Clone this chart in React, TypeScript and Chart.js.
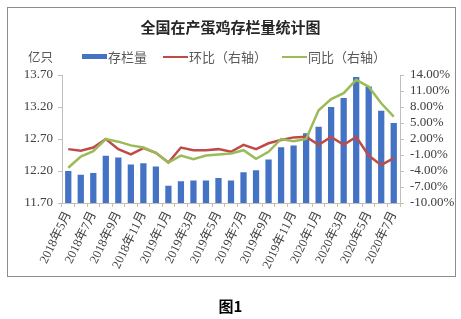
import React, { useEffect, useRef } from "react";
import { Chart, registerables } from "chart.js";

Chart.register(...registerables);

const months = [
  "2018年5月", "2018年6月", "2018年7月", "2018年8月", "2018年9月", "2018年10月", "2018年11月", "2018年12月",
  "2019年1月", "2019年2月", "2019年3月", "2019年4月", "2019年5月", "2019年6月", "2019年7月", "2019年8月",
  "2019年9月", "2019年10月", "2019年11月", "2019年12月",
  "2020年1月", "2020年2月", "2020年3月", "2020年4月", "2020年5月", "2020年6月", "2020年7月",
];

const stock = [
  12.20, 12.14, 12.17, 12.44, 12.41, 12.30, 12.32, 12.27,
  11.97, 12.04, 12.05, 12.05, 12.09, 12.05, 12.18, 12.21,
  12.38, 12.57, 12.60, 12.79,
  12.89, 13.20, 13.34, 13.67, 13.52, 13.14, 12.95,
];

const mom = [
  0.1, -0.2, 0.4, 2.0, 0.1, -0.9, 0.3, -0.6,
  -2.4, 0.4, -0.1, -0.1, 0.1, -0.4, 0.9, 0.1,
  1.2, 1.8, 2.3, 2.4,
  0.9, 2.4, 0.9, 2.4, -1.1, -2.9, -1.6,
];

const yoy = [
  -3.4, -1.3, -0.3, 2.0, 1.5, 0.8, 0.4, -0.6,
  -2.4, -1.1, -1.8, -1.1, -0.9, -0.7, -0.1, -1.7,
  -0.4, 2.0, 1.6, 2.0,
  7.4, 9.5, 10.6, 13.1, 11.8, 8.7, 6.2,
];

const seriesNames = ["存栏量", "环比（右轴）", "同比（右轴）"];
const titleText = "全国在产蛋鸡存栏量统计图";
const unitText = "亿只";
const figText = "图1";

const BLUE = "#4472C4";
const RED = "#BE4B48";
const GREEN = "#9BBB59";
const SERIF = "'Liberation Serif', 'Noto Sans CJK SC', serif";
const CJK = "'Noto Sans CJK SC', sans-serif";

export default function App() {
  const ref = useRef<HTMLCanvasElement | null>(null);

  useEffect(() => {
    if (!ref.current) return;
    const chart = new Chart(ref.current, {
      type: "bar",
      data: {
        labels: months,
        datasets: [
          {
            type: "line",
            label: seriesNames[2],
            data: yoy,
            yAxisID: "y1",
            borderColor: GREEN,
            backgroundColor: GREEN,
            borderWidth: 2.5,
            pointRadius: 0,
            tension: 0,
            order: 0,
          },
          {
            type: "line",
            label: seriesNames[1],
            data: mom,
            yAxisID: "y1",
            borderColor: RED,
            backgroundColor: RED,
            borderWidth: 2.5,
            pointRadius: 0,
            tension: 0,
            order: 1,
          },
          {
            type: "bar",
            label: seriesNames[0],
            data: stock,
            yAxisID: "y",
            backgroundColor: BLUE,
            barPercentage: 0.5,
            categoryPercentage: 1,
            order: 2,
          },
        ],
      },
      options: {
        responsive: false,
        animation: false,
        devicePixelRatio: 1,
        layout: { padding: { top: 75, left: 0, right: 0, bottom: 0 } },
        plugins: { legend: { display: false }, title: { display: false }, tooltip: { enabled: false } },
        scales: {
          x: {
            offset: true,
            border: { display: true, color: "#BFBFBF" },
            grid: { display: true, drawOnChartArea: false, drawTicks: true, tickLength: 4, color: "#E3B98A", offset: true },
            ticks: {
              autoSkip: false,
              maxRotation: 64,
              minRotation: 64,
              padding: 2,
              color: "#404040",
              font: { family: SERIF, size: 12.5 },
              callback: (_v: any, i: number) => (i % 2 === 0 ? months[i] : ""),
            },
            afterFit: (s: any) => { s.height = 116; },
          },
          y: {
            position: "left",
            min: 11.7,
            max: 13.7,
            border: { display: true, color: "#BFBFBF" },
            grid: { display: true, drawOnChartArea: false, tickLength: 4, color: "#BFBFBF" },
            ticks: {
              autoSkip: false,
              stepSize: 0.5,
              padding: 5,
              color: "#404040",
              font: { family: SERIF, size: 13 },
              callback: (v: any) => Number(v).toFixed(2),
            },
            afterFit: (s: any) => { s.width = 62; },
          },
          y1: {
            position: "right",
            min: -10,
            max: 14,
            border: { display: true, color: "#BFBFBF" },
            grid: { display: true, drawOnChartArea: false, tickLength: 4, color: "#BFBFBF" },
            ticks: {
              autoSkip: false,
              stepSize: 3,
              padding: 6,
              color: "#404040",
              font: { family: SERIF, size: 13 },
              callback: (v: any) => Number(v).toFixed(2) + "%",
            },
            afterFit: (s: any) => { s.width = 61; },
          },
        },
      },
    });
    return () => chart.destroy();
  }, []);

  const legendText: React.CSSProperties = {
    position: "absolute",
    top: 48,
    fontFamily: CJK,
    fontSize: 13,
    color: "#595959",
    lineHeight: "17px",
    whiteSpace: "nowrap",
  };

  return (
    <div style={{ position: "absolute", left: 0, top: 0, width: 461, height: 319, background: "#fff", overflow: "hidden" }}>
      <div style={{ position: "absolute", left: 7, top: 7, width: 447, height: 268, border: "1px solid #8C8C8C" }} />
      <canvas ref={ref} width={461} height={319} style={{ position: "absolute", left: 0, top: 0, display: "block" }} />
      <div style={{ position: "absolute", left: 0, width: 461, top: 17, textAlign: "center", fontFamily: CJK, fontWeight: 700, fontSize: 15, lineHeight: "20px", color: "#262626" }}>
        {titleText}
      </div>
      <div style={{ ...legendText, left: 28, fontSize: 12.5 }}>{unitText}</div>
      <div style={{ position: "absolute", left: 82, top: 54, width: 25, height: 5, background: BLUE }} />
      <div style={{ ...legendText, left: 108 }}>{seriesNames[0]}</div>
      <div style={{ position: "absolute", left: 163, top: 56, width: 25, height: 2, background: RED }} />
      <div style={{ ...legendText, left: 189 }}>{seriesNames[1]}</div>
      <div style={{ position: "absolute", left: 282, top: 56, width: 25, height: 2, background: GREEN }} />
      <div style={{ ...legendText, left: 308 }}>{seriesNames[2]}</div>
      <div style={{ position: "absolute", left: 0, width: 461, top: 296, textAlign: "center", fontFamily: CJK, fontWeight: 700, fontSize: 15, lineHeight: "20px", color: "#000" }}>
        {figText}
      </div>
    </div>
  );
}
